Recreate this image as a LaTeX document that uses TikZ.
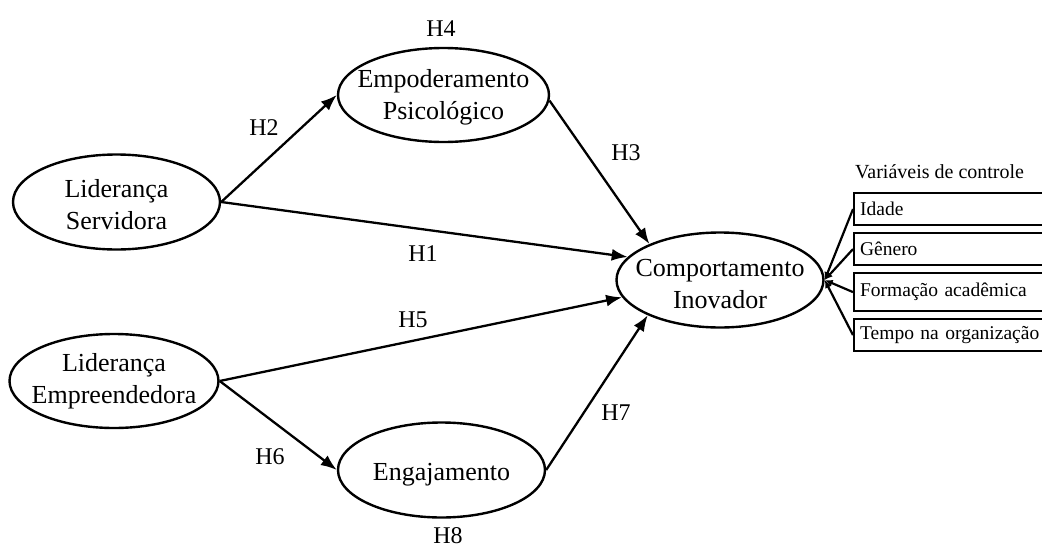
\documentclass[tikz,border=0pt]{standalone}
\usepackage{fontspec}
\setmainfont{Liberation Serif}
\usetikzlibrary{shapes.geometric,arrows.meta}

\begin{document}
\begin{tikzpicture}[x=1pt,y=-1pt,
  construct/.style={ellipse,draw,line width=2.4pt,inner sep=0pt},
  ctext/.style={inner sep=0pt,align=center,font=\fontsize{26}{32}\selectfont},
  path/.style={line width=2.3pt,-{Latex[length=16pt,width=12pt]}},
  hyp/.style={inner sep=0pt,font=\fontsize{24}{28}\selectfont},
  ctrlbox/.style={draw,line width=2.2pt,anchor=north west,minimum width=240pt,
    text width=228pt,inner xsep=5pt,align=left,
    font=\fontsize{19.5}{22}\selectfont},
  ctrlpath/.style={line width=2.2pt,-{Latex[length=8pt,width=7pt]}}]
\useasboundingbox (0,0) rectangle (1042,549);
\clip (0,0) rectangle (1042,549);

% latent constructs (outlines)
\node[construct,minimum width=207pt,minimum height=95pt] (ls) at (116.5,202) {};
\node[construct,minimum width=209pt,minimum height=94pt] (le) at (114,381) {};
\node[construct,minimum width=211pt,minimum height=94pt] (ep) at (443.5,95) {};
\node[construct,minimum width=207pt,minimum height=95pt] (ci) at (720,280) {};
\node[construct,minimum width=207pt,minimum height=95pt] (en) at (441.5,470) {};

% construct names
\node[ctext] (ls-t) at ([yshift=-3pt]ls.center) {Liderança\\Servidora};
\node[ctext] (le-t) at (le.center) {Liderança\\Empreendedora};
\node[ctext] (ep-t) at ([yshift=-2.5pt]ep.center) {Empoderamento\\Psicológico};
\node[ctext] (ci-t) at ([yshift=-4pt]ci.center) {Comportamento\\Inovador};
\node[ctext] (en-t) at ([yshift=-5pt]en.center) {Engajamento};

% hypothesised paths
\draw[path] (ls.east) -- (ep.west);
\draw[path] (ls.east) -- (ci.166);
\draw[path] (ep.-3) -- (ci.153);
\draw[path] (le.east) -- (ci.190);
\draw[path] (le.east) -- (en.west);
\draw[path] (en.east) -- (ci.206);

% hypothesis labels
\node[hyp] (h1) at (423,254) {H1};
\node[hyp] (h2) at (264,128) {H2};
\node[hyp] (h3) at (626,153) {H3};
\node[hyp] (h4) at (441,29) {H4};
\node[hyp] (h5) at (413,320) {H5};
\node[hyp] (h6) at (270,457) {H6};
\node[hyp] (h7) at (616,413) {H7};
\node[hyp] (h8) at (448,536) {H8};

% control variables
\node[anchor=base west,inner sep=0pt,font=\fontsize{20}{24}\selectfont] (ctitle) at (855,178) {Variáveis de controle};
\node[ctrlbox,minimum height=32pt] (c1) at (853,192) {Idade};
\node[ctrlbox,minimum height=32pt] (c2) at (853,232) {Gênero};
\node[ctrlbox,minimum height=38pt] (c3) at (853,272) {Formação acadêmica};
\node[ctrlbox,minimum height=32pt] (c4) at (853,318) {Tempo na organização};

\foreach \c in {c1,c2,c3,c4}
  \draw[ctrlpath] (\c.west) -- (ci.east);
\end{tikzpicture}
\end{document}
